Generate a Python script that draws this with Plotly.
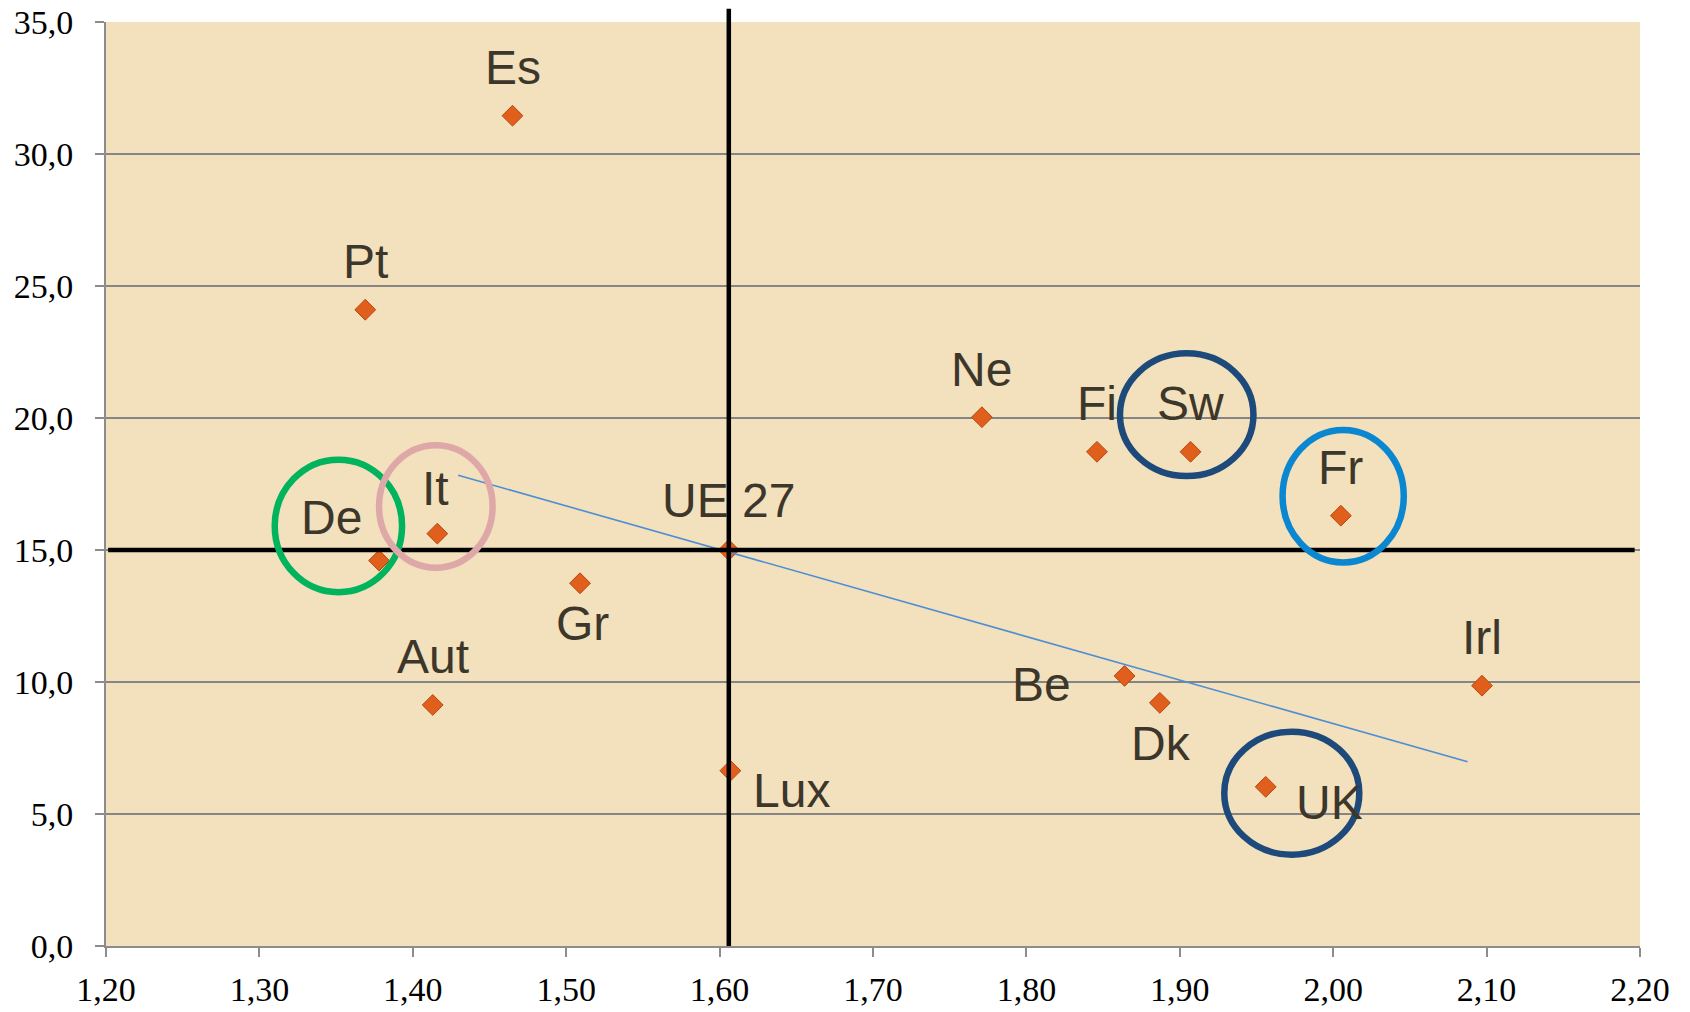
import plotly.graph_objects as go

# ---- data ----
countries = ["Es", "Pt", "Ne", "Fi", "Sw", "Fr", "It", "De", "UE 27", "Gr",
             "Aut", "Be", "Dk", "Irl", "Lux", "UK"]
x_vals = [1.465, 1.369, 1.771, 1.846, 1.907, 2.005, 1.416, 1.378, 1.606, 1.509,
          1.413, 1.864, 1.887, 2.097, 1.607, 1.956]
y_vals = [31.45, 24.10, 20.03, 18.72, 18.72, 16.30, 15.62, 14.60, 15.00, 13.74,
          9.13, 10.23, 9.21, 9.86, 6.64, 6.03]

trend_x = [1.4296, 2.0876]
trend_y = [17.83, 6.98]

ref_x = 1.606   # UE 27 vertical reference
ref_y = 15.0    # UE 27 horizontal reference

x_tickvals = [1.2, 1.3, 1.4, 1.5, 1.6, 1.7, 1.8, 1.9, 2.0, 2.1, 2.2]
x_ticktext = ["1,20", "1,30", "1,40", "1,50", "1,60", "1,70", "1,80", "1,90",
              "2,00", "2,10", "2,20"]
y_tickvals = [0, 5, 10, 15, 20, 25, 30, 35]
y_ticktext = ["0,0", "5,0", "10,0", "15,0", "20,0", "25,0", "30,0", "35,0"]

# highlighted groups: (x0, x1, y0, y1, colour)
highlights = [
    (1.310, 1.393, 13.40, 18.42, "#00B35C"),   # De
    (1.378, 1.452, 14.33, 18.97, "#DFA8A8"),   # It
    (1.861, 1.948, 17.80, 22.45, "#1D4A7A"),   # Sw
    (1.967, 2.046, 14.53, 19.55, "#0B86D0"),   # Fr
    (1.929, 2.017, 3.46, 8.12, "#1D4A7A"),     # UK
]

# label offsets in pixels (style)
label_shift = {
    "Es": (0, 48), "Pt": (0, 48), "Ne": (0, 48), "Fi": (0, 48), "Sw": (0, 48),
    "Fr": (0, 48), "It": (-2, 45), "De": (-48, 43), "UE 27": (0, 50),
    "Gr": (2, -40), "Aut": (0, 48), "Be": (-83, -9), "Dk": (1, -41),
    "Irl": (0, 48), "Lux": (61, -20), "UK": (64, -16),
}

X_RANGE = [1.2, 2.2]
Y_RANGE = [0, 35]

fig = go.Figure()

fig.add_trace(go.Scatter(
    x=x_vals, y=y_vals, mode="markers",
    marker=dict(symbol="diamond", size=16, color="#E15F1C",
                line=dict(color="#B5470F", width=1)),
    hoverinfo="text", text=countries, showlegend=False,
))

fig.add_trace(go.Scatter(
    x=trend_x, y=trend_y, mode="lines",
    line=dict(color="#4D8DD5", width=1.6), showlegend=False, hoverinfo="skip",
))

shapes = []
# horizontal reference line
shapes.append(dict(type="line", xref="x", yref="y", x0=1.2014, x1=2.1965,
                   y0=ref_y, y1=ref_y, line=dict(color="black", width=4.5)))
# vertical reference line (extends above plot top)
xp = (ref_x - X_RANGE[0]) / (X_RANGE[1] - X_RANGE[0])
shapes.append(dict(type="line", xref="paper", yref="paper", x0=xp, x1=xp,
                   y0=0, y1=35.5 / 35, line=dict(color="black", width=4.5)))
for (x0, x1, y0, y1, col) in highlights:
    shapes.append(dict(type="circle", xref="x", yref="y", x0=x0, x1=x1,
                       y0=y0, y1=y1, line=dict(color=col, width=6.5)))

annotations = []
for name, xv, yv in zip(countries, x_vals, y_vals):
    dx, dy = label_shift[name]
    annotations.append(dict(x=xv, y=yv, xref="x", yref="y", text=name,
                            showarrow=False, xshift=dx, yshift=dy,
                            font=dict(family="Liberation Sans, Arial", size=48,
                                      color="#3D372B")))

fig.update_layout(
    width=1690, height=1012,
    margin=dict(l=106, r=50, t=22, b=66, autoexpand=False),
    paper_bgcolor="white",
    plot_bgcolor="#F2E1BC",
    shapes=shapes,
    annotations=annotations,
    showlegend=False,
    font=dict(family="Liberation Serif, Times New Roman", size=34, color="black"),
)

tick_font = dict(family="Liberation Serif, Times New Roman", size=34, color="black")
fig.update_xaxes(
    range=X_RANGE, tickvals=x_tickvals, ticktext=x_ticktext, automargin=False,
    showgrid=False, zeroline=False, showline=True, linecolor="#8C8C8C",
    linewidth=2, ticks="outside", ticklen=9, tickwidth=2, tickcolor="#8C8C8C",
    ticklabelstandoff=3, ticklabeloverflow="allow", tickfont=tick_font,
)
fig.update_yaxes(
    range=Y_RANGE, tickvals=y_tickvals, ticktext=y_ticktext, automargin=False,
    showgrid=True, gridcolor="#858585", gridwidth=1.6, zeroline=False,
    showline=True, linecolor="#8C8C8C", linewidth=2,
    ticks="outside", ticklen=9, tickwidth=2, tickcolor="#8C8C8C",
    ticklabelstandoff=15, ticklabeloverflow="allow", tickfont=tick_font,
)

fig.write_html("out.html",
               config={"displayModeBar": False},
               post_script="document.body.style.margin='0';"
                           "document.body.style.overflow='hidden';")
